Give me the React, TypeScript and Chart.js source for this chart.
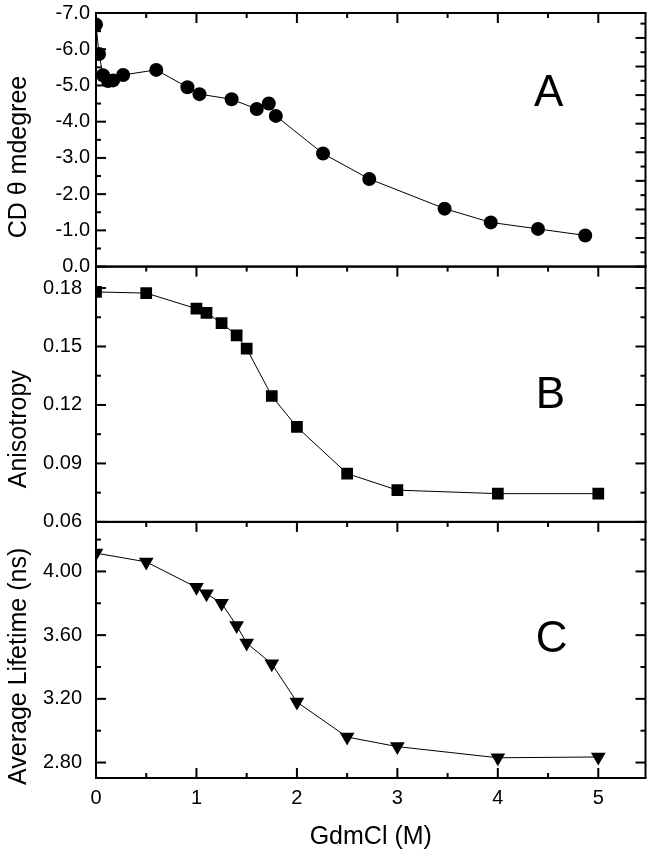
import React, { useEffect, useRef } from "react";
import { Chart, registerables } from "chart.js";
Chart.register(...registerables);

// ---- Data ----
const GDM_A = [0, 0.03, 0.07, 0.12, 0.17, 0.27, 0.6, 0.91, 1.03, 1.35, 1.6, 1.72, 1.79, 2.26, 2.72, 3.47, 3.93, 4.4, 4.87];
const CD_A = [-6.68, -5.87, -5.28, -5.12, -5.14, -5.29, -5.43, -4.95, -4.76, -4.62, -4.35, -4.5, -4.16, -3.12, -2.42, -1.6, -1.22, -1.04, -0.86];

const GDM_BC = [0, 0.5, 1.0, 1.1, 1.25, 1.4, 1.5, 1.75, 2.0, 2.5, 3.0, 4.0, 5.0];
const ANISO_B = [0.178, 0.1774, 0.1694, 0.1672, 0.162, 0.1557, 0.1489, 0.1246, 0.1087, 0.0848, 0.0763, 0.0745, 0.0745];
const LIFE_C = [4.115, 4.06, 3.9, 3.86, 3.8, 3.66, 3.55, 3.42, 3.18, 2.96, 2.9, 2.83, 2.835];

const X_TICKS = [0, 1, 2, 3, 4, 5];
const A_TICKS = [-7, -6, -5, -4, -3, -2, -1, 0];
const B_TICKS = [0.06, 0.09, 0.12, 0.15, 0.18];
const C_TICKS = [2.8, 3.2, 3.6, 4.0];

const X_TITLE = "GdmCl (M)";
const Y_TITLES = ["CD \u03B8 mdegree", "Anisotropy", "Average Lifetime (ns)"];
const PANEL_LETTERS = ["A", "B", "C"];

const FONT = "'Liberation Sans', Arial, Helvetica, sans-serif";
const A_RIGHT_STEP = 0.789;

function hline(ctx: CanvasRenderingContext2D, x1: number, x2: number, y: number, w: number) {
  ctx.fillRect(Math.min(x1, x2), y - w / 2, Math.abs(x2 - x1), w);
}
function vline(ctx: CanvasRenderingContext2D, x: number, y1: number, y2: number, w: number) {
  ctx.fillRect(x - w / 2, Math.min(y1, y2), w, Math.abs(y2 - y1));
}

function minorValues(ticks: number[], min: number, max: number): number[] {
  const step = ticks[1] - ticks[0];
  const out: number[] = [];
  for (let k = -20; k <= 40; k++) {
    const v = ticks[0] + step / 2 + k * step;
    if (v >= min - 1e-9 && v <= max + 1e-9) out.push(v);
  }
  return out;
}

const framePlugin = {
  id: "framePlugin",
  afterDraw(chart: any) {
    const ctx: CanvasRenderingContext2D = chart.ctx;
    ctx.save();
    const xs = chart.scales.x;
    const panels = [chart.scales.yA, chart.scales.yB, chart.scales.yC];
    const tickSets = [A_TICKS, B_TICKS, C_TICKS];
    const L = chart.chartArea.left;
    const R = chart.chartArea.right;
    const MAJ = 10, MIN = 5, W = 2;
    ctx.fillStyle = "#000";
    const xMinor = minorValues(X_TICKS, xs.min, xs.max);

    panels.forEach((s: any, i: number) => {
      const T = s.top, B = s.bottom;
      hline(ctx, L - 1, R + 1, T, W);
      hline(ctx, L - 1, R + 1, B, W);
      vline(ctx, L, T, B, W);
      vline(ctx, R, T, B, W);
      const ticks = tickSets[i];
      const smin = Math.min(s.min, s.max), smax = Math.max(s.min, s.max);
      const minors = minorValues(ticks, smin, smax);
      ticks.forEach((v) => hline(ctx, L, L + MAJ, s.getPixelForValue(v), W));
      minors.forEach((v) => hline(ctx, L, L + MIN, s.getPixelForValue(v), W));
      if (i === 0) {
        for (let k = 0; k * A_RIGHT_STEP <= 7; k++) {
          hline(ctx, R - MAJ, R, s.getPixelForValue(-k * A_RIGHT_STEP), W);
          const vm = -(k + 0.5) * A_RIGHT_STEP;
          if (vm >= -7) hline(ctx, R - MIN, R, s.getPixelForValue(vm), W);
        }
      } else {
        ticks.forEach((v) => hline(ctx, R - MAJ, R, s.getPixelForValue(v), W));
        minors.forEach((v) => hline(ctx, R - MIN, R, s.getPixelForValue(v), W));
      }
      X_TICKS.forEach((v) => vline(ctx, xs.getPixelForValue(v), T, T + MAJ, W));
      xMinor.forEach((v) => vline(ctx, xs.getPixelForValue(v), T, T + MIN, W));
      if (i === 2) {
        X_TICKS.forEach((v) => vline(ctx, xs.getPixelForValue(v), B - MAJ, B, W));
        xMinor.forEach((v) => vline(ctx, xs.getPixelForValue(v), B - MIN, B, W));
      }
    });

    const letterPos = [[0.824, 0.32], [0.827, 0.507], [0.829, 0.462]];
    ctx.font = `44px ${FONT}`;
    ctx.textAlign = "center";
    ctx.textBaseline = "middle";
    panels.forEach((s: any, i: number) => {
      const [fx, fy] = letterPos[i];
      ctx.fillText(PANEL_LETTERS[i], L + fx * (R - L), s.top + fy * (s.bottom - s.top));
    });

    const titleFy = [0.568, 0.637, 0.564];
    ctx.font = `25px ${FONT}`;
    panels.forEach((s: any, i: number) => {
      ctx.save();
      ctx.translate(19, s.top + titleFy[i] * (s.bottom - s.top));
      ctx.rotate(-Math.PI / 2);
      ctx.fillText(Y_TITLES[i], 0, 0);
      ctx.restore();
    });
    ctx.restore();
  },
};

function yScale(ticks: number[], min: number, max: number, weightOrder: number, stackWeight: number, pad: number, digits: number, reverse: boolean) {
  return {
    type: "linear",
    position: "left",
    stack: "panels",
    stackWeight,
    weight: weightOrder,
    min,
    max,
    reverse,
    grid: { display: false, drawTicks: false },
    border: { display: false },
    afterBuildTicks: (s: any) => { s.ticks = ticks.map((v) => ({ value: v })); },
    afterFit: (s: any) => { s.width = 96; s.paddingTop = 0; s.paddingBottom = 0; },
    ticks: {
      color: "#000",
      font: { family: FONT, size: 20 },
      padding: pad,
      autoSkip: false,
      callback: (v: any) => Number(v).toFixed(digits),
    },
  };
}

export default function App() {
  const ref = useRef<HTMLCanvasElement | null>(null);
  useEffect(() => {
    if (!ref.current) return;
    const common = {
      borderColor: "#000",
      borderWidth: 1,
      pointBackgroundColor: "#000",
      pointBorderColor: "#000",
      pointBorderWidth: 0,
      tension: 0,
      clip: 0,
      fill: false,
    };
    const chart = new Chart(ref.current, {
      type: "line",
      data: {
        datasets: [
          { ...common, label: "CD", yAxisID: "yA", pointStyle: "circle", pointRadius: 7,
            data: GDM_A.map((x, i) => ({ x, y: CD_A[i] })) },
          { ...common, label: "Anisotropy", yAxisID: "yB", pointStyle: "rect", pointRadius: 8.3,
            data: GDM_BC.map((x, i) => ({ x, y: ANISO_B[i] })) },
          { ...common, label: "Lifetime", yAxisID: "yC", pointStyle: "triangle", pointRotation: 180, pointRadius: 8.5,
            data: GDM_BC.map((x, i) => ({ x, y: LIFE_C[i] })) },
        ],
      } as any,
      options: {
        animation: false,
        responsive: false,
        devicePixelRatio: 1,
        events: [],
        layout: { padding: { top: 13, right: 7, bottom: 1, left: 0 } },
        plugins: { legend: { display: false }, tooltip: { enabled: false } },
        scales: {
          x: {
            type: "linear",
            position: "bottom",
            min: 0,
            max: 5.47,
            grid: { display: false, drawTicks: false },
            border: { display: false },
            afterBuildTicks: (s: any) => { s.ticks = X_TICKS.map((v) => ({ value: v })); },
            afterFit: (s: any) => { s.height = 74; s.paddingLeft = 0; s.paddingRight = 0; },
            ticks: { color: "#000", font: { family: FONT, size: 20 }, padding: 8, maxRotation: 0, autoSkip: false,
              callback: (v: any) => String(v) },
            title: { display: true, text: X_TITLE, color: "#000", font: { family: FONT, size: 25 }, padding: { top: 0, bottom: 0 } },
          },
          yA: yScale(A_TICKS, -7, 0, 3, 253.5, 6, 1, true),
          yB: yScale(B_TICKS, 0.06, 0.191, 2, 255.2, 14, 2, false),
          yC: yScale(C_TICKS, 2.703, 4.311, 1, 256, 14, 2, false),
        } as any,
      },
      plugins: [framePlugin],
    } as any);
    return () => chart.destroy();
  }, []);
  return (
    <div style={{ position: "absolute", left: 0, top: 0, width: 654, height: 853, background: "#fff" }}>
      <canvas ref={ref} width={654} height={853} />
    </div>
  );
}
